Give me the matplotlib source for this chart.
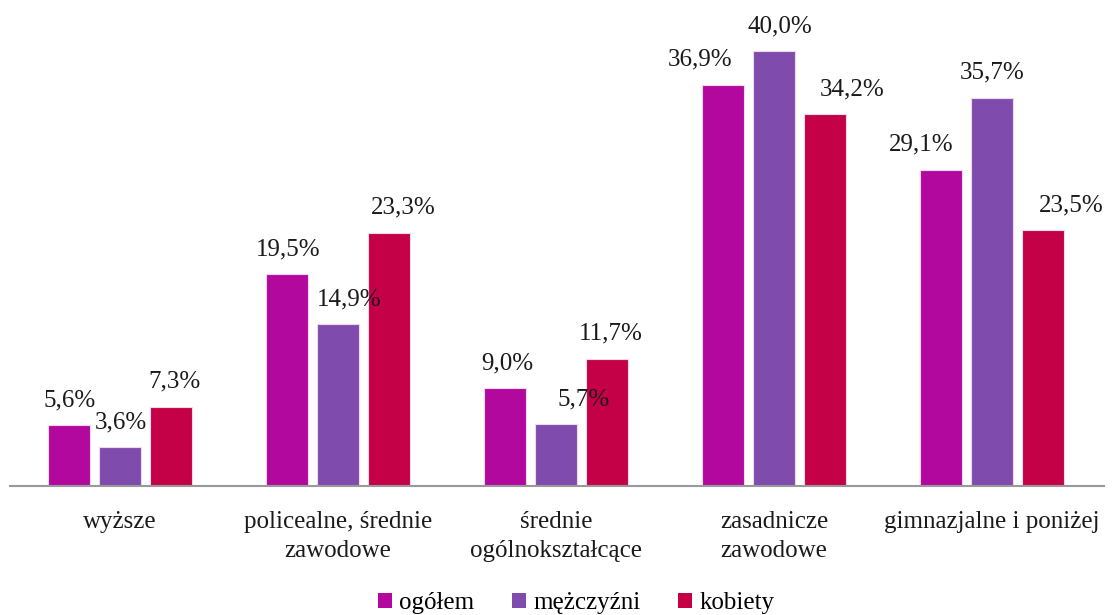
import matplotlib
matplotlib.use('Agg')
import matplotlib.pyplot as plt
from matplotlib.patches import Patch

plt.rcParams['font.family'] = ['Liberation Serif', 'DejaVu Serif']

# dane
categories = ['wyższe', 'policealne, średnie\nzawodowe', 'średnie\nogólnokształcące',
              'zasadnicze\nzawodowe', 'gimnazjalne i poniżej']
series_names = ['ogółem', 'mężczyźni', 'kobiety']
ogolem = [5.6, 19.5, 9.0, 36.9, 29.1]
mezczyzni = [3.6, 14.9, 5.7, 40.0, 35.7]
kobiety = [7.3, 23.3, 11.7, 34.2, 23.5]

colors = ['#B3089E', '#7F4CAD', '#C40046']
# przesunięcie etykiet w poziomie (piksele)
label_dx = [[1, 1, 2, -23, -20],
            [1, 11, 28, 6, 0],
            [3, 14, 4, 27, 28]]

fig = plt.figure(figsize=(11.12, 6.15), dpi=100)
ax = fig.add_axes([10 / 1112, 129 / 615, 1094 / 1112, 456.75 / 615])

width = 0.193
step = 0.234
x = list(range(len(categories)))
for i, vals in enumerate([ogolem, mezczyzni, kobiety]):
    xs = [xi + (i - 1) * step for xi in x]
    ax.bar(xs, vals, width=width, color=colors[i], edgecolor='#f0d8ee', linewidth=0.8)
    for j, (xx, v) in enumerate(zip(xs, vals)):
        ax.annotate(('%.1f%%' % v).replace('.', ','), (xx, v),
                    xytext=(label_dx[i][j] * 0.72, 10), textcoords='offset points',
                    ha='center', va='bottom', fontsize=18, color='#1a1a1a')

ax.set_xlim(-0.5046, 4.5138)
ax.set_ylim(0, 42)
for s in ['top', 'right', 'left']:
    ax.spines[s].set_visible(False)
ax.spines['bottom'].set_color('#999999')
ax.spines['bottom'].set_linewidth(1.5)
ax.set_yticks([])
ax.set_xticks(x)
ax.set_xticklabels(categories, fontsize=18, color='#1a1a1a', linespacing=1.4)
ax.tick_params(axis='x', length=0, pad=18)

handles = [Patch(facecolor=c, edgecolor='none') for c in colors]
fig.legend(handles, series_names, loc='center', bbox_to_anchor=(0.518, 1 - 603 / 615),
           ncol=3, frameon=False, fontsize=18, handlelength=0.55, handleheight=0.55,
           handletextpad=0.3, columnspacing=1.5)

fig.savefig('out.png', dpi=100)
